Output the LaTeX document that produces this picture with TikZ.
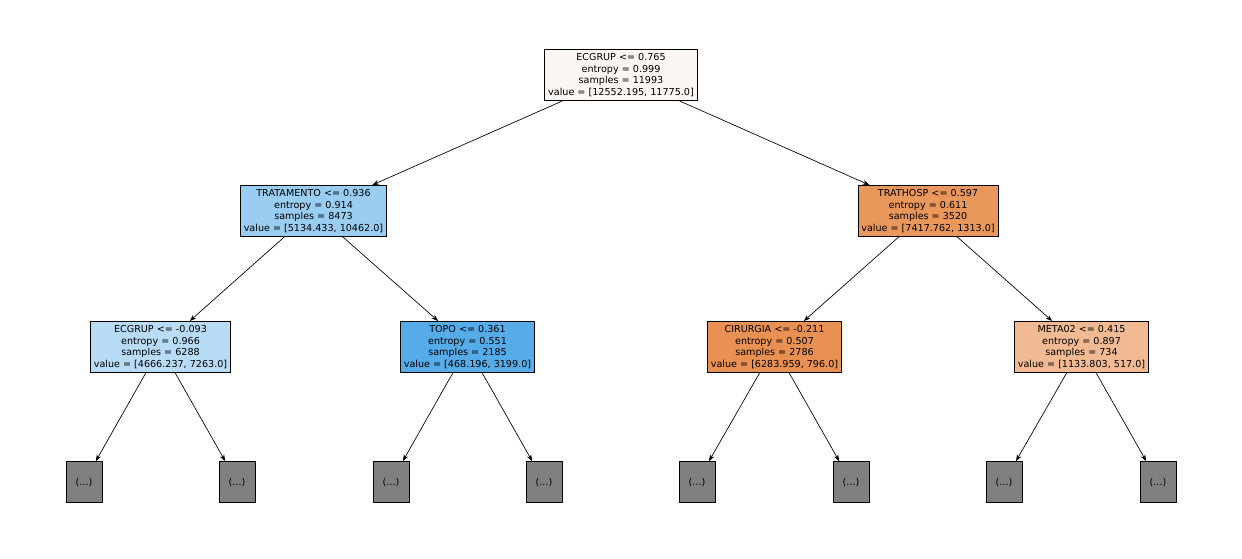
\documentclass[tikz,border=0pt]{standalone}
\usepackage{fontspec}
\setmainfont{DejaVu Sans}
\usepackage{xcolor}
\usepackage{tikz}
\usetikzlibrary{arrows.meta, positioning}
\definecolor{rootfill}{RGB}{253,247,243}
\definecolor{treatfill}{RGB}{154,205,242}
\definecolor{trathfill}{RGB}{234,151,92}
\definecolor{ecgfill}{RGB}{184,220,246}
\definecolor{topofill}{RGB}{86,171,233}
\definecolor{cirfill}{RGB}{232,145,82}
\definecolor{metafill}{RGB}{241,186,147}
\tikzset{
  split/.style={rectangle, draw=black, line width=0.5pt, align=center, inner xsep=2.6pt, inner ysep=3.2pt, font=\fontsize{7.2}{8.6}\selectfont},
  leaf/.style={rectangle, draw=black, line width=0.5pt, fill=black!50, minimum width=27pt, minimum height=30.7pt, inner sep=0pt, font=\fontsize{7.2}{8.6}\selectfont},
  arrow/.style={-{Stealth[length=5pt, width=3.6pt]}, line width=0.5pt}
}
\begin{document}
\begin{tikzpicture}[x=0.75pt, y=-0.75pt]
  \useasboundingbox (0,0) rectangle (1242,558);
  \node[split, fill=rootfill] (root) at (621,75) {ECGRUP <= 0.765\\entropy = 0.999\\samples = 11993\\value = [12552.195, 11775.0]};
  \node[split, fill=treatfill] (treat) at (313.5,211) {TRATAMENTO <= 0.936\\entropy = 0.914\\samples = 8473\\value = [5134.433, 10462.0]};
  \node[split, fill=trathfill] (trath) at (928,211) {TRATHOSP <= 0.597\\entropy = 0.611\\samples = 3520\\value = [7417.762, 1313.0]};
  \node[split, fill=ecgfill] (ecg) at (160.5,347) {ECGRUP <= -0.093\\entropy = 0.966\\samples = 6288\\value = [4666.237, 7263.0]};
  \node[split, fill=topofill] (topo) at (467.5,347) {TOPO <= 0.361\\entropy = 0.551\\samples = 2185\\value = [468.196, 3199.0]};
  \node[split, fill=cirfill] (cir) at (774.5,347) {CIRURGIA <= -0.211\\entropy = 0.507\\samples = 2786\\value = [6283.959, 796.0]};
  \node[split, fill=metafill] (meta) at (1081.5,347) {META02 <= 0.415\\entropy = 0.897\\samples = 734\\value = [1133.803, 517.0]};
  % truncated branches
  \node[leaf] (l1) at (84,482) {(...)};
  \node[leaf] (l2) at (237,482) {(...)};
  \node[leaf] (l3) at (391,482) {(...)};
  \node[leaf] (l4) at (544,482) {(...)};
  \node[leaf] (l5) at (697,482) {(...)};
  \node[leaf] (l6) at (851,482) {(...)};
  \node[leaf] (l7) at (1004,482) {(...)};
  \node[leaf] (l8) at (1158,482) {(...)};
  \draw[arrow] (root) -- (treat);
  \draw[arrow] (root) -- (trath);
  \draw[arrow] (treat) -- (ecg);
  \draw[arrow] (treat) -- (topo);
  \draw[arrow] (trath) -- (cir);
  \draw[arrow] (trath) -- (meta);
  \draw[arrow] (ecg) -- (l1);
  \draw[arrow] (ecg) -- (l2);
  \draw[arrow] (topo) -- (l3);
  \draw[arrow] (topo) -- (l4);
  \draw[arrow] (cir) -- (l5);
  \draw[arrow] (cir) -- (l6);
  \draw[arrow] (meta) -- (l7);
  \draw[arrow] (meta) -- (l8);
\end{tikzpicture}
\end{document}
